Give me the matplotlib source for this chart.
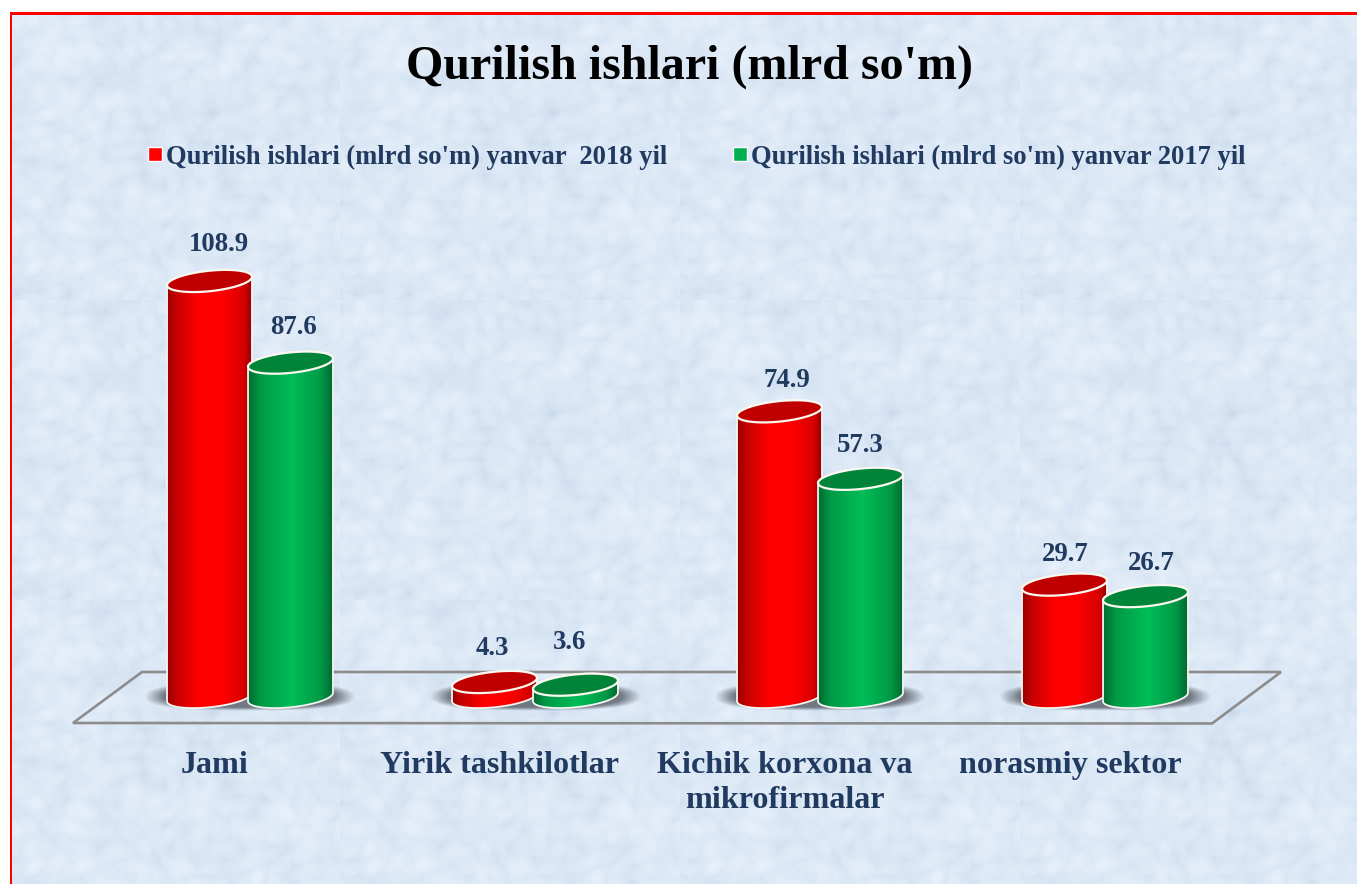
import numpy as np
import matplotlib
matplotlib.use("Agg")
import matplotlib.pyplot as plt
from matplotlib.colors import LinearSegmentedColormap
from matplotlib.lines import Line2D
from matplotlib.patches import Polygon

# ---- data ----
categories = ["Jami", "Yirik tashkilotlar", "Kichik korxona va\nmikrofirmalar", "norasmiy sektor"]
series_2018 = [108.9, 4.3, 74.9, 29.7]
series_2017 = [87.6, 3.6, 57.3, 26.7]
label_2018 = "Qurilish ishlari (mlrd so'm) yanvar  2018 yil"
label_2017 = "Qurilish ishlari (mlrd so'm) yanvar 2017 yil"
title = "Qurilish ishlari (mlrd so'm)"

# ---- layout (pixels of the 1357x884 canvas) ----
W, H = 1357, 884
GROUP0_PX, GROUP_STEP_PX = 250.0, 285.0
ZERO_PX, PX_PER_UNIT = 698.5, 3.834
AX_TOP_PX, AX_BOTTOM_PX = 13.0, 723.5
BAR_OFF_PX = 40.5
A_PX, B_PX, TILT = 42.7, 10.2, np.deg2rad(6.0)
offs_2018 = [(9, 36), (-2, 34), (7, 31), (1, 30)]
offs_2017 = [(3, 35), (-6, 42), (0, 33), (6, 33)]
NAVY = "#203A60"
SERIF = ["Liberation Serif", "DejaVu Serif"]

fig = plt.figure(figsize=(W / 100, H / 100), dpi=100, facecolor="white")

# ---- textured background: a deterministic sum of warped waves, repeated as tiles ----
bg = fig.add_axes([0, 0, 1, 1], zorder=0)
TW, TH = 340, 300
yy, xx = np.mgrid[0:TH, 0:TW]
warp1 = 14 * np.sin(xx / 31.0 + 0.7) + 11 * np.cos(yy / 23.0 + 1.9)
warp2 = 13 * np.cos(xx / 19.0 + yy / 41.0) + 9 * np.sin(yy / 17.0 - xx / 53.0)
tex = np.zeros(xx.shape)
for k in range(16):
    ang = k * 2.39996
    freq = 0.028 + 0.0065 * k
    ph = xx * np.cos(ang) * freq + yy * np.sin(ang) * freq
    tex += np.abs(np.sin(ph + (warp1 if k % 2 else warp2) * freq * 1.4 + k * 1.3)) ** 0.6
tex = (tex - tex.mean()) / tex.std()
blotch = (np.sin(xx / 43.0 + 1.3 * np.sin(yy / 37.0)) + np.sin(yy / 29.0 + 1.1 * np.cos(xx / 51.0))) / 2
shade = np.clip(0.55 + 0.09 * tex + 0.06 * blotch, 0, 1)
c_dark = np.array([198, 215, 235]) / 255
c_light = np.array([238, 246, 254]) / 255
tile = c_dark + (c_light - c_dark) * shade[..., None]
img = np.tile(tile, (H // TH + 1, W // TW + 1, 1))[:H, :W].copy()
img[:12, :] = 1.0
img[:, :10] = 1.0
img[12:15, 10:] = (1, 0, 0)
img[12:, 10:12] = (1, 0, 0)
bg.imshow(img, extent=(0, W, H, 0), aspect="auto", interpolation="nearest")
bg.axis("off")

# ---- main axes: x = category index, y = value ----
ax = fig.add_axes([0, (H - AX_BOTTOM_PX) / H, 1, (AX_BOTTOM_PX - AX_TOP_PX) / H], zorder=1)
ax.patch.set_alpha(0)
XLIM = (-GROUP0_PX / GROUP_STEP_PX, (W - GROUP0_PX) / GROUP_STEP_PX)
YLIM = ((ZERO_PX - AX_BOTTOM_PX) / PX_PER_UNIT, (ZERO_PX - AX_TOP_PX) / PX_PER_UNIT)
XU, YU = 1 / GROUP_STEP_PX, 1 / PX_PER_UNIT
for s in ax.spines.values():
    s.set_visible(False)
ax.set_yticks([])
label_shift = -35 * XU
ax.set_xticks([i + label_shift for i in range(len(categories))])
ax.set_xticklabels(categories, fontsize=23.1, fontweight="bold", color=NAVY, family=SERIF,
                   linespacing=1.28, va="top")
ax.tick_params(axis="x", length=0, pad=20)

def px(x, y):
    return (x - GROUP0_PX) * XU, (ZERO_PX - y) * YU

# floor
floor = [px(73, 723), px(142, 672), px(1281, 672), px(1212, 723.5)]
ax.add_patch(Polygon(floor, closed=True, fill=False, edgecolor="#8C8C8C", lw=1.9,
                     joinstyle="miter", zorder=2, clip_on=False))

def ell(cx, cy, t):
    """Tilted ellipse around a data anchor; offsets are in pixels."""
    dx = A_PX * np.cos(t) * np.cos(TILT) + B_PX * np.sin(t) * np.sin(TILT)
    dy = -A_PX * np.cos(t) * np.sin(TILT) + B_PX * np.sin(t) * np.cos(TILT)
    return np.column_stack([cx + dx * XU, cy - dy * YU])

cmap_red = LinearSegmentedColormap.from_list("r", [(0, "#960000"), (0.12, "#C80000"), (0.38, "#FF0000"),
                                                   (0.65, "#FF0000"), (0.9, "#D80000"), (1, "#960000")])
cmap_green = LinearSegmentedColormap.from_list("g", [(0, "#006B30"), (0.15, "#009A46"), (0.52, "#00BD58"),
                                                     (0.85, "#009A46"), (1, "#006B30")])
grad = np.linspace(0, 1, 256)[None, :]

def shadow(cx):
    gx = np.linspace(-1.25, 1.25, 300)
    gy = np.linspace(-1.25, 1.25, 80)
    X, Y = np.meshgrid(gx, gy)
    r = (np.abs(X) ** 3.0 + np.abs(Y) ** 2.4) ** (1 / 2.6)
    rgba = np.zeros(X.shape + (4,))
    rgba[..., :3] = (0.42, 0.45, 0.49)
    rgba[..., 3] = np.clip((1.02 - r) / 0.22, 0, 1) * 0.95
    ext = (cx - 130 * XU, cx + 130 * XU, -15.5 * YU, 19 * YU)
    ax.imshow(rgba, extent=ext, aspect="auto", zorder=2.5, interpolation="bilinear")

def cylinder(cx, value, cmap, top_color, z):
    lower = ell(cx, 1.5 * YU, np.linspace(0, np.pi, 60))
    upper = ell(cx, value, np.linspace(np.pi, 2 * np.pi, 60))
    outline = np.vstack([lower, upper])
    body = Polygon(outline, closed=True, fc="none", ec="none", zorder=z)
    ax.add_patch(body)
    x0, x1 = np.min(lower[:, 0]), np.max(lower[:, 0])
    im = ax.imshow(grad, cmap=cmap, extent=(x0, x1, -20 * YU, value + 20 * YU),
                   aspect="auto", zorder=z, interpolation="bilinear")
    im.set_clip_path(body)
    ax.add_patch(Polygon(outline, closed=True, fc="none", ec="#F4F4F0", lw=1.3, zorder=z + 0.1))
    ax.add_patch(Polygon(ell(cx, value, np.linspace(0, 2 * np.pi, 90)), closed=True, fc=top_color,
                         ec="#FBF8F0", lw=1.6, zorder=z + 0.2))

for i in range(len(categories)):
    shadow(i)
for i, (a, b) in enumerate(zip(series_2018, series_2017)):
    z = 3 + i
    xa, xb = i - BAR_OFF_PX * XU, i + BAR_OFF_PX * XU
    cylinder(xa, a, cmap_red, "#C00000", z)
    cylinder(xb, b, cmap_green, "#00843A", z + 0.4)
    for xv, v, off in ((xa, a, offs_2018[i]), (xb, b, offs_2017[i])):
        ax.annotate(f"{v:.1f}", (xv, v), xytext=(off[0] * 0.72, off[1] * 0.72), textcoords="offset points",
                    ha="center", va="center", fontsize=19.3, fontweight="bold", color=NAVY, family=SERIF,
                    zorder=10)

ax.set_xlim(*XLIM)
ax.set_ylim(*YLIM)

# title
fig.text(689.5 / W, 1 - 66.5 / H, title, ha="center", va="center", fontsize=34.6, fontweight="bold",
         color="black", family=SERIF, zorder=5)

# legend
handles = [Line2D([], [], ls="none", marker="s", ms=9.5, mfc="#FF0000", mec="white", mew=1.0),
           Line2D([], [], ls="none", marker="s", ms=9.5, mfc="#00B050", mec="white", mew=1.0)]
leg = fig.legend(handles, [label_2018, label_2017], ncol=2, loc="center", bbox_to_anchor=(696.5 / W, 1 - 157 / H),
                 frameon=False, prop={"family": SERIF, "weight": "bold", "size": 19.15},
                 handlelength=0.55, handletextpad=0.15, columnspacing=2.45, borderpad=0, borderaxespad=0)
for t in leg.get_texts():
    t.set_color(NAVY)
leg.set_zorder(5)

fig.savefig("out.png", dpi=100, facecolor="white")
